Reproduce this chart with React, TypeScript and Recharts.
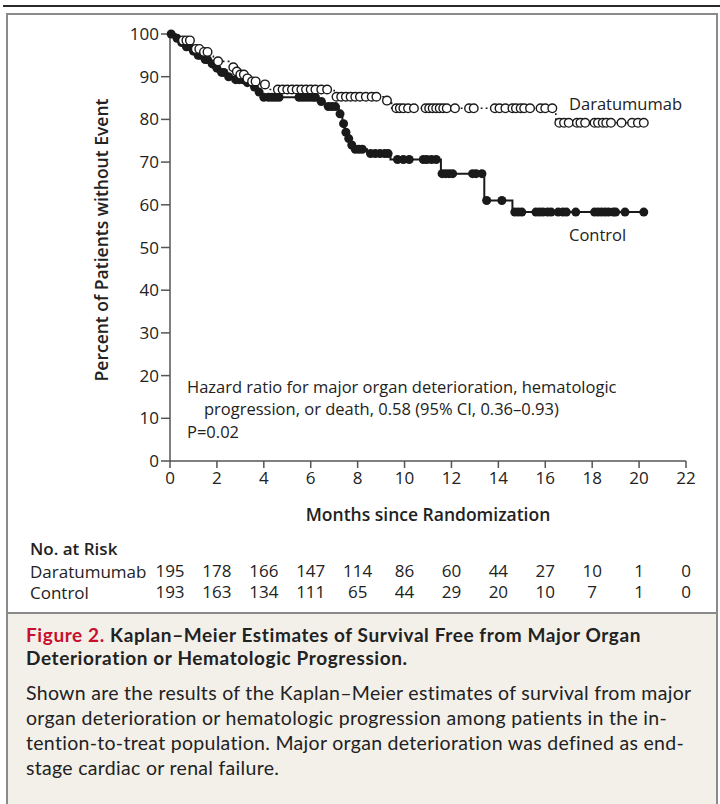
import React from 'react';
import { ComposedChart, Line, Scatter, XAxis, YAxis } from 'recharts';

const xTicks = [0, 2, 4, 6, 8, 10, 12, 14, 16, 18, 20, 22];
const yTicks = [0, 10, 20, 30, 40, 50, 60, 70, 80, 90, 100];
const riskDara = [195, 178, 166, 147, 114, 86, 60, 44, 27, 10, 1, 0];
const riskControl = [193, 163, 134, 111, 65, 44, 29, 20, 10, 7, 1, 0];

const endTime = 20.25;

const daraStepT = [0, 0.25, 0.45, 0.9, 1.0, 1.4, 1.65, 1.85, 2.6, 2.75, 2.95, 3.2, 3.45, 3.8, 4.15, 7.0, 9.15, 9.45, 16.45];
const daraStepV = [100, 99.2, 98.5, 97.4, 96.5, 95.8, 94.8, 93.6, 92.2, 91.2, 90.5, 89.6, 88.9, 88.2, 87.0, 85.3, 84.4, 82.6, 79.2];

const controlStepT = [0, 0.2, 0.4, 0.6, 0.9, 1.1, 1.4, 1.7, 1.95, 2.1, 2.4, 2.7, 3.2, 3.5, 3.7, 3.9, 6.3, 6.6, 7.2, 7.35, 7.45, 7.55, 7.7, 7.85, 8.4, 9.4, 11.55, 13.4, 14.6];
const controlStepV = [100, 99, 98, 97, 96, 95, 94, 93, 92, 91, 90, 89.3, 88.6, 87.6, 86.4, 85.2, 84.2, 83.0, 81.3, 79, 77, 75.5, 74, 73, 72, 70.6, 67.3, 61, 58.3];

const daraCensorT = [0.55, 0.7, 0.85, 1.1, 1.25, 1.45, 1.6, 2.05, 2.7, 2.85, 3.0, 3.15, 3.3, 3.5, 3.65, 4.05, 4.6, 4.8, 5.0, 5.2, 5.4, 5.6, 5.8, 6.0, 6.2, 6.45, 6.7, 7.1, 7.3, 7.5, 7.7, 7.9, 8.1, 8.35, 8.6, 8.8, 9.25, 9.65, 9.8, 9.95, 10.15, 10.4, 10.9, 11.05, 11.2, 11.35, 11.5, 11.65, 11.8, 12.15, 12.75, 12.95, 13.85, 14.05, 14.3, 14.6, 14.75, 14.95, 15.1, 15.35, 15.8, 16.0, 16.3, 16.6, 16.8, 17.0, 17.35, 17.5, 17.7, 18.1, 18.25, 18.45, 18.6, 18.8, 19.25, 19.7, 19.95, 20.2];

const controlCensorT = [0.05, 0.3, 0.5, 0.7, 0.85, 1.0, 1.2, 1.3, 1.5, 1.6, 1.8, 2.0, 2.2, 2.3, 2.5, 2.8, 2.95, 3.1, 3.3, 3.6, 3.8, 4.0, 4.2, 4.35, 4.5, 4.65, 5.5, 5.65, 5.8, 5.95, 6.1, 6.2, 6.45, 6.75, 6.9, 7.05, 7.25, 7.4, 7.5, 7.62, 7.75, 7.9, 8.05, 8.2, 8.55, 8.75, 8.95, 9.15, 9.3, 9.7, 9.95, 10.2, 10.8, 10.95, 11.15, 11.35, 11.6, 11.75, 11.9, 12.05, 12.9, 13.05, 13.3, 13.5, 14.15, 14.7, 14.85, 15.0, 15.6, 15.75, 15.9, 16.1, 16.25, 16.55, 16.75, 16.9, 17.3, 18.1, 18.25, 18.4, 18.55, 18.7, 18.9, 19.0, 19.4, 20.2];

const FONT = '"Open Sans", "Noto Sans", sans-serif';
const CAPTION_FONT = 'Lato, "Open Sans", sans-serif';

function survAt(ts: number[], vs: number[], t: number) {
  let v = vs[0];
  for (let i = 0; i < ts.length; i++) if (t >= ts[i]) v = vs[i];
  return v;
}
function stepLine(ts: number[], vs: number[]) {
  const d = ts.map((t, i) => ({ t, v: vs[i] }));
  d.push({ t: endTime, v: vs[vs.length - 1] });
  return d;
}

const daraLine = stepLine(daraStepT, daraStepV);
const controlLine = stepLine(controlStepT, controlStepV);
const daraCensor = daraCensorT.map((t) => ({ t, v: survAt(daraStepT, daraStepV, t) }));
const controlCensor = controlCensorT.map((t) => ({ t, v: survAt(controlStepT, controlStepV, t) }));

// X tick: month label plus the two "No. at Risk" rows aligned to the same scale position
const MonthTick = (props: any) => {
  const { x, y, payload } = props;
  const i = xTicks.indexOf(payload.value);
  return (
    <g fontFamily={FONT} fill="#222">
      <text x={x} y={y + 13} textAnchor="middle" fontSize={17}>{payload.value}</text>
      <text x={x} y={y + 106} textAnchor="middle" fontSize={17}>{riskDara[i]}</text>
      <text x={x} y={y + 127} textAnchor="middle" fontSize={17}>{riskControl[i]}</text>
    </g>
  );
};

const openCircle = (p: any) => <circle cx={p.cx} cy={p.cy} r={4.3} fill="#fff" stroke="#1a1a1a" strokeWidth={1.4} />;
const filledCircle = (p: any) => <circle cx={p.cx} cy={p.cy} r={4.5} fill="#1a1a1a" stroke="none" />;

function Txt(props: { x: number; y: number; size: number; weight?: number; color?: string; center?: boolean; font?: string; spacing?: number; children: any }) {
  const lh = Math.round(props.size * 1.15);
  return (
    <div
      style={{
        position: 'absolute',
        left: props.x,
        top: props.y - lh / 2,
        height: lh,
        lineHeight: `${lh}px`,
        fontSize: props.size,
        fontWeight: props.weight ?? 400,
        color: props.color ?? '#222',
        whiteSpace: 'nowrap',
        letterSpacing: props.spacing ? `${props.spacing}px` : undefined,
        transform: props.center ? 'translateX(-50%)' : undefined,
        fontFamily: props.font ?? FONT,
      }}
    >
      {props.children}
    </div>
  );
}

export default function App() {
  return (
    <div style={{ position: 'absolute', left: 0, top: 0, width: 720, height: 804, overflow: 'hidden', background: '#fff', fontFamily: FONT }}>
      <div style={{ position: 'absolute', left: 3, top: 5, width: 717, height: 2, background: '#2a2a2a' }} />
      <div style={{ position: 'absolute', left: 6, top: 13, width: 712, height: 820, boxSizing: 'border-box', border: '2px solid #8a8a8a', background: '#fff' }} />
      <div style={{ position: 'absolute', left: 8, top: 612, width: 708, height: 200, background: '#f3f0ea', borderTop: '2px solid #8a8a8a' }} />

      <div style={{ position: 'absolute', left: 0, top: 0 }}>
        <ComposedChart width={720} height={603} margin={{ top: 34, right: 34, bottom: 0, left: 0 }}>
          <XAxis
            type="number"
            dataKey="t"
            domain={[0, 22]}
            ticks={xTicks}
            interval={0}
            height={142}
            tickSize={7}
            tickMargin={3}
            stroke="#555"
            strokeWidth={1.5}
            tick={MonthTick}
          />
          <YAxis
            type="number"
            dataKey="v"
            domain={[0, 100]}
            ticks={yTicks}
            interval={0}
            width={170}
            tickSize={9}
            tickMargin={2}
            stroke="#555"
            strokeWidth={1.5}
            tick={{ fill: '#222', fontSize: 17, fontFamily: FONT }}
          />
          <Line data={controlLine} dataKey="v" type="stepAfter" stroke="#1a1a1a" strokeWidth={2} dot={false} isAnimationActive={false} />
          <Line data={daraLine} dataKey="v" type="stepAfter" stroke="#1a1a1a" strokeWidth={1.6} strokeDasharray="1.8 3.2" dot={false} isAnimationActive={false} />
          <Scatter data={controlCensor} dataKey="v" shape={filledCircle} isAnimationActive={false} />
          <Scatter data={daraCensor} dataKey="v" shape={openCircle} isAnimationActive={false} />
        </ComposedChart>
      </div>

      <div
        style={{
          position: 'absolute',
          left: 101,
          top: 240,
          transform: 'translate(-50%, -50%) rotate(-90deg)',
          fontSize: 17.5,
          fontWeight: 600,
          color: '#222',
          whiteSpace: 'nowrap',
          lineHeight: '20px',
          fontFamily: FONT,
        }}
      >
        Percent of Patients without Event
      </div>
      <Txt x={428} y={514} size={17.5} weight={600} center>
        Months since Randomization
      </Txt>

      <Txt x={569} y={103} size={16.5}>Daratumumab</Txt>
      <Txt x={569} y={234} size={16.5}>Control</Txt>
      <Txt x={187} y={386} size={16.5}>Hazard ratio for major organ deterioration, hematologic</Txt>
      <Txt x={204} y={408} size={16.5}>progression, or death, 0.58 (95% CI, 0.36–0.93)</Txt>
      <Txt x={187} y={431} size={16.5}>P=0.02</Txt>

      <Txt x={30} y={549} size={17} weight={600}>No. at Risk</Txt>
      <Txt x={30} y={572} size={17}>Daratumumab</Txt>
      <Txt x={30} y={593} size={17}>Control</Txt>

      <Txt x={26} y={635} size={19} weight={700} font={CAPTION_FONT} spacing={0.6}>
        <span style={{ color: '#c8102e' }}>Figure 2.</span> Kaplan–Meier Estimates of Survival Free from Major Organ
      </Txt>
      <Txt x={26} y={658} size={19} weight={700} font={CAPTION_FONT} spacing={0.6}>Deterioration or Hematologic Progression.</Txt>
      <Txt x={26} y={693} size={19.5} font={CAPTION_FONT} spacing={0.3}>Shown are the results of the Kaplan–Meier estimates of survival from major</Txt>
      <Txt x={26} y={718} size={19.5} font={CAPTION_FONT} spacing={0.3}>organ deterioration or hematologic progression among patients in the in-</Txt>
      <Txt x={26} y={743} size={19.5} font={CAPTION_FONT} spacing={0.3}>tention-to-treat population. Major organ deterioration was defined as end-</Txt>
      <Txt x={26} y={768} size={19.5} font={CAPTION_FONT} spacing={0.3}>stage cardiac or renal failure.</Txt>
    </div>
  );
}
